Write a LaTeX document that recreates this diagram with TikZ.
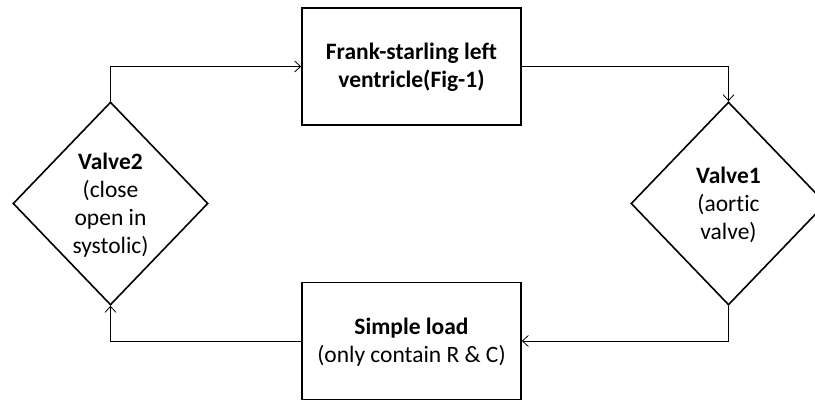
\documentclass[tikz,border=0pt]{standalone}
\usepackage{fontspec}
\setmainfont{Carlito}[Ligatures={NoCommon,TeX}]
\usetikzlibrary{shapes.geometric,arrows.meta}
\begin{document}
\begin{tikzpicture}[x=1pt,y=-1pt,
  boxnode/.style={draw,line width=1.6pt,minimum width=219pt,minimum height=117pt,inner sep=0pt},
  dia/.style={draw,diamond,line width=1.6pt,minimum width=195pt,minimum height=203pt,inner sep=0pt},
  txt/.style={align=center,font=\fontsize{23.5}{28}\selectfont,inner sep=0pt},
  conn/.style={line width=0.8pt,-{Straight Barb[length=6pt,width=11pt,line width=0.8pt]}}]
\useasboundingbox (0,0) rectangle (815,402);
\clip (0,0) rectangle (815,402);
\node[boxnode] (fs) at (411.5,66.5) {};
\node[txt] (fst) at (411.5,67.5) {\textbf{Frank-starling left}\\\textbf{ventricle(Fig-1)}};
\node[boxnode] (sl) at (411.5,341) {};
\node[txt] (slt) at (411.5,342) {\textbf{Simple load}\\(only contain R \& C)};
\node[dia] (v2) at (110.5,203.5) {};
\node[txt] (v2t) at (110.5,205) {\textbf{Valve2}\\(close\\open in\\systolic)};
\node[dia] (v1) at (728.5,203.5) {};
\node[txt] (v1t) at (728.5,205) {\textbf{Valve1}\\(aortic\\valve)};
\draw[conn] (v2.north) |- (fs.west);
\draw[conn] (fs.east) -| (v1.north);
\draw[conn] (v1.south) |- (sl.east);
\draw[conn] (sl.west) -| (v2.south);
\end{tikzpicture}
\end{document}
